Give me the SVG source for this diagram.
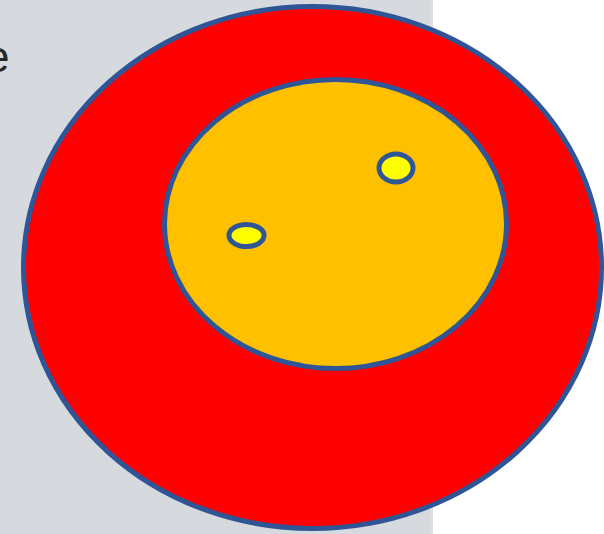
<svg xmlns="http://www.w3.org/2000/svg" width="604" height="534" viewBox="0 0 604 534">
  <style>
    .ring { stroke: #2F5597; stroke-width: 5; }
    .lbl { font-family: "Liberation Sans", Arial, sans-serif; fill: #262626; }
  </style>
  <rect x="0" y="0" width="604" height="534" fill="#FFFFFF"/>
  <rect id="panel" x="0" y="0" width="433" height="534" fill="#D6D9DD"/>
  <rect x="430" y="0" width="3" height="534" fill="#DDDFE2"/>
  <text class="lbl" x="-15" y="72" font-size="44">e</text>
  <g id="outer">
    <ellipse class="ring" cx="312.5" cy="267.5" rx="289" ry="261" fill="#FF0000"/>
  </g>
  <g id="inner">
    <ellipse class="ring" cx="335.5" cy="224" rx="171" ry="144.5" fill="#FFC000"/>
  </g>
  <g id="dot1">
    <ellipse class="ring" cx="396" cy="168" rx="17" ry="14" fill="#FFFF00"/>
  </g>
  <g id="dot2">
    <ellipse class="ring" cx="246.5" cy="235.5" rx="17.5" ry="11" fill="#FFFF00"/>
  </g>
  <g id="connectors"></g>
</svg>
